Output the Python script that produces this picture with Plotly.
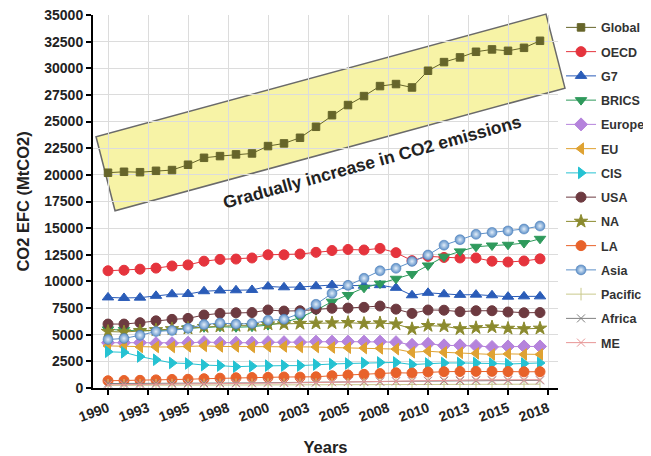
import plotly.graph_objects as go

years = list(range(1990, 2018))

global_v = [20200, 20290, 20250, 20380, 20450, 20950, 21600, 21760, 21920, 22010, 22700, 22950, 23480, 24510,
            25600, 26550, 27390, 28330, 28520, 28200, 29770, 30580, 31020, 31550, 31770, 31640, 31920, 32580]
oecd = [11000, 11050, 11150, 11250, 11450, 11550, 11900, 12070, 12100, 12200, 12500, 12500, 12570, 12730,
        12900, 13000, 12950, 13100, 12700, 11950, 12350, 12250, 12200, 12200, 11900, 11820, 11920, 12120]
g7 = [8500, 8450, 8480, 8650, 8800, 8820, 9080, 9150, 9170, 9200, 9530, 9450, 9480, 9550,
      9660, 9600, 9600, 9650, 9400, 8700, 8930, 8800, 8740, 8760, 8700, 8570, 8600, 8600]
brics = [5500, 5450, 5350, 5400, 5450, 5600, 5700, 5750, 5700, 5750, 5900, 6150, 6600, 7300,
         8100, 8725, 9400, 9800, 10250, 10700, 11500, 12320, 12820, 13250, 13370, 13440, 13600, 14000]
europe = [4250, 4250, 4250, 4200, 4200, 4250, 4300, 4250, 4250, 4250, 4300, 4300, 4300, 4350,
          4350, 4350, 4350, 4350, 4300, 4050, 4150, 4000, 4000, 3950, 3850, 3900, 3900, 3900]
eu = [3950, 3900, 3850, 3850, 3850, 3900, 3950, 3900, 3900, 3850, 3900, 3900, 3850, 3850,
      3800, 3780, 3750, 3720, 3650, 3350, 3450, 3350, 3300, 3250, 3150, 3200, 3150, 3150]
cis = [3400, 3350, 2950, 2650, 2350, 2300, 2150, 2100, 2000, 2050, 2100, 2100, 2100, 2200,
       2250, 2300, 2350, 2400, 2400, 2200, 2300, 2350, 2350, 2350, 2300, 2250, 2300, 2350]
usa = [6000, 6000, 6130, 6300, 6440, 6530, 6850, 7000, 7060, 7080, 7320, 7220, 7250, 7400,
       7480, 7500, 7570, 7690, 7400, 7000, 7320, 7300, 7160, 7250, 7250, 7130, 7060, 7080]
na = [5300, 5250, 5350, 5450, 5550, 5600, 5750, 5800, 5850, 5850, 6000, 6000, 6050, 6070,
      6100, 6130, 6050, 6100, 6000, 5550, 5850, 5800, 5550, 5650, 5720, 5590, 5550, 5600]
la = [680, 700, 720, 760, 800, 820, 870, 920, 960, 980, 1000, 1030, 1020, 1050,
      1150, 1220, 1280, 1350, 1430, 1400, 1500, 1530, 1550, 1560, 1560, 1540, 1520, 1530]
asia = [4550, 4650, 4950, 5300, 5400, 5600, 5950, 6100, 6000, 6050, 6350, 6450, 7000, 7850,
        8880, 9630, 10290, 11000, 11230, 11880, 12480, 13400, 13920, 14420, 14600, 14740, 14920, 15200]
pacific = [250, 255, 260, 265, 270, 280, 285, 290, 295, 300, 310, 315, 320, 325,
           330, 335, 340, 345, 350, 345, 350, 355, 355, 350, 350, 350, 355, 360]
africa = [420, 420, 425, 430, 440, 450, 460, 470, 475, 480, 500, 505, 510, 530,
          550, 570, 580, 600, 620, 630, 650, 670, 680, 690, 700, 700, 710, 720]
me = [300, 310, 330, 350, 360, 380, 390, 400, 420, 430, 450, 470, 490, 520,
      550, 580, 600, 630, 660, 680, 700, 730, 750, 760, 770, 760, 770, 780]

names = ["Global", "OECD", "G7", "BRICS", "Europe", "EU", "CIS", "USA", "NA", "LA", "Asia", "Pacific", "Africa", "ME"]
values = [global_v, oecd, g7, brics, europe, eu, cis, usa, na, la, asia, pacific, africa, me]

tick_vals = [1990, 1992.5, 1995, 1997.5, 2000, 2002.5, 2005, 2007.5, 2010, 2012.5, 2015, 2017.5]
tick_text = ["1990", "1993", "1995", "1998", "2000", "2003", "2005", "2008", "2010", "2013", "2015", "2018"]

styles = {
    "Global": dict(symbol="square", color="#66652a", size=7.5),
    "OECD": dict(symbol="circle", color="#e5343d", size=10),
    "G7": dict(symbol="triangle-up", color="#2a5cb8", size=10),
    "BRICS": dict(symbol="triangle-down", color="#2f9a5c", size=10),
    "Europe": dict(symbol="diamond", color="#b583dc", size=10),
    "EU": dict(symbol="triangle-left", color="#dfa232", size=10),
    "CIS": dict(symbol="triangle-right", color="#25c2d2", size=10),
    "USA": dict(symbol="circle", color="#6d3a40", size=10),
    "NA": dict(symbol="star", color="#8b8a2e", size=10),
    "LA": dict(symbol="circle", color="#e8622a", size=10),
    "Asia": dict(symbol="circle", color="#5d90c8", size=10),
    "Pacific": dict(symbol="line-ns-open", color="#c9c98c", size=9),
    "Africa": dict(symbol="x-thin-open", color="#808080", size=8),
    "ME": dict(symbol="x-thin-open", color="#e79595", size=8),
}

XR = [1989.0625, 2018.125]
YR = [0, 35000]

fig = go.Figure()
for i, (nm, vals) in enumerate(zip(names, values)):
    st = styles[nm]
    marker = dict(symbol=st["symbol"], color=st["color"], size=st["size"],
                  line=dict(width=1, color=st["color"]))
    if nm == "Asia":
        marker["gradient"] = dict(type="radial", color="#e3eef9")
        marker["line"] = dict(width=0.5, color="#4a7db8")
    fig.add_trace(go.Scatter(
        x=years, y=vals, name=nm, mode="lines+markers", legendgroup=nm,
        line=dict(color=st["color"], width=1),
        marker=marker,
    ))

# highlight band (annotation decoration)
box_x = [1989.25, 1990.44, 2018.56, 2017.375]
box_y = [23575, 16630, 28140, 35080]
px = [(x - XR[0]) / (XR[1] - XR[0]) for x in box_x]
py = [(y - YR[0]) / (YR[1] - YR[0]) for y in box_y]
path = "M {:.4f},{:.4f} L {:.4f},{:.4f} L {:.4f},{:.4f} L {:.4f},{:.4f} Z".format(
    px[0], py[0], px[1], py[1], px[2], py[2], px[3], py[3])
fig.add_shape(type="path", path=path, xref="paper", yref="paper", layer="below",
              fillcolor="#f7f3a6", line=dict(color="#6a6a6a", width=1.5))

fig.add_annotation(x=2006.5, y=21200, xref="x", yref="y", text="Gradually increase in CO2 emissions",
                   textangle=-15.4, showarrow=False,
                   font=dict(family="Liberation Sans, Arial", size=17.5, color="#222222", weight="bold"))

font_b = dict(family="Liberation Sans, Arial", size=14, color="#222222", weight="bold")

fig.update_layout(
    width=643, height=448,
    margin=dict(l=85, r=93, t=7, b=68, autoexpand=False),
    paper_bgcolor="white", plot_bgcolor="rgba(0,0,0,0)",
    font=dict(family="Liberation Sans, Arial"),
    legend=dict(x=1.0065, xanchor="left", y=1.006, yanchor="top", maxheight=420,
                font=dict(family="Liberation Sans, Arial", size=12.5, color="#333333", weight="bold"),
                tracegroupgap=5, bgcolor="rgba(0,0,0,0)"),
    xaxis=dict(range=XR, tickvals=tick_vals, ticktext=tick_text, tickangle=-20,
               showgrid=True, gridcolor="#dcdcdc", gridwidth=1, zeroline=False,
               showline=True, linecolor="black", linewidth=2,
               ticks="outside", ticklen=5, tickwidth=2, tickcolor="black",
               tickfont=font_b,
               title=dict(text="Years", font=dict(family="Liberation Sans, Arial", size=16.5, color="#222222", weight="bold"),
                          standoff=19)),
    yaxis=dict(range=YR, dtick=2500, tick0=0, tickformat="d", ticklabeloverflow="allow",
               showgrid=True, gridcolor="#dcdcdc", gridwidth=1, zeroline=False,
               showline=True, linecolor="black", linewidth=2,
               ticks="outside", ticklen=5, tickwidth=2, tickcolor="black",
               tickfont=font_b,
               title=dict(text="CO2 EFC (MtCO2)", font=dict(family="Liberation Sans, Arial", size=16.5, color="#222222", weight="bold"),
                          standoff=10)),
)

fig.write_html("out.html")
